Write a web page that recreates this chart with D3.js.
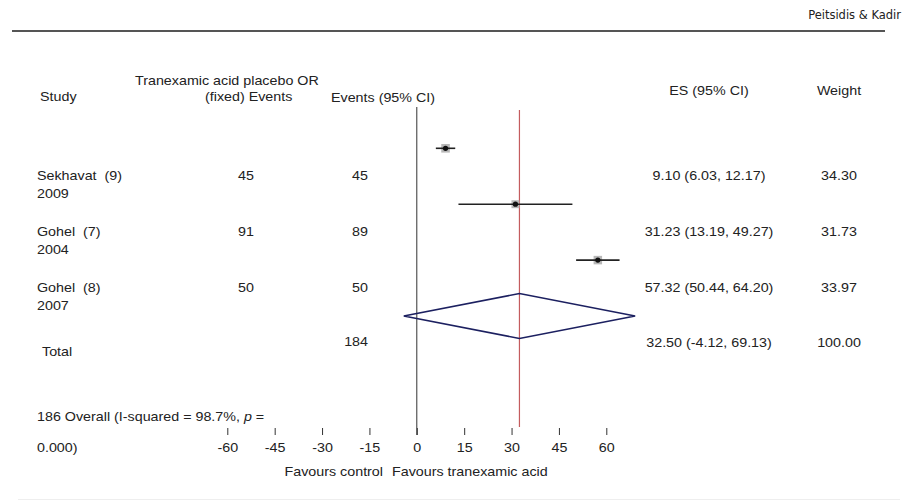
<!DOCTYPE html>
<html><head><meta charset="utf-8">
<script src="https://cdn.jsdelivr.net/npm/d3@7"></script>
<style>body{margin:0;background:#fff}svg{display:block}text{font-family:"Liberation Sans",Arial,sans-serif;font-size:13px;fill:#222;white-space:pre}</style>
</head><body>
<svg id="c" width="913" height="501"></svg>
<script>
const studies = ["Sekhavat  (9)", "Gohel  (7)", "Gohel  (8)"];
const years = ["2009", "2004", "2007"];
const txEvents = ["45", "91", "50"];
const plEvents = ["45", "89", "50"];
const es = [9.10, 31.23, 57.32];
const lo = [6.03, 13.19, 50.44];
const hi = [12.17, 49.27, 64.20];
const weights = [34.30, 31.73, 33.97];
const esText = ["9.10 (6.03, 12.17)", "31.23 (13.19, 49.27)", "57.32 (50.44, 64.20)"];
const overall = {es: 32.50, lo: -4.12, hi: 69.13, text: "32.50 (-4.12, 69.13)", weight: "100.00", total: "184"};
const ticks = [-60, -45, -30, -15, 0, 15, 30, 45, 60];

const SX = 1.1;
const svg = d3.select("#c");
const x = d3.scaleLinear().domain([-60, 60]).range([227.3, 606.3]);
const rows = d3.scaleLinear().domain([0, 3]).range([148.3, 316]);

function txt(px, py, s, anchor) {
  return svg.append("text")
    .attr("transform", `translate(${px},${py}) scale(${SX},1)`)
    .attr("xml:space", "preserve")
    .attr("text-anchor", anchor || "start").text(s);
}

// header
svg.append("text").attr("x", 901).attr("y", 19).attr("text-anchor", "end")
  .style("font-family", "'DejaVu Sans',Verdana,sans-serif").style("font-size", "11.5px").text("Peitsidis & Kadir");
svg.append("line").attr("x1", 12).attr("x2", 885).attr("y1", 31).attr("y2", 31)
  .attr("stroke", "#555").attr("stroke-width", 2);
svg.append("line").attr("x1", 18).attr("x2", 900).attr("y1", 499.5).attr("y2", 499.5)
  .attr("stroke", "#eee").attr("stroke-width", 1);

// column headers
txt(40, 101, "Study");
txt(135, 85, "Tranexamic acid placebo OR");
txt(205, 101, "(fixed) Events");
txt(331, 101.5, "Events (95% CI)");
txt(709, 95, "ES (95% CI)", "middle");
txt(839, 95, "Weight", "middle");

// vertical lines
svg.append("line").attr("x1", x(0)).attr("x2", x(0)).attr("y1", 107).attr("y2", 435)
  .attr("stroke", "#333").attr("stroke-width", 1);
svg.append("line").attr("x1", x(overall.es)).attr("x2", x(overall.es)).attr("y1", 110).attr("y2", 427)
  .attr("stroke", "#c45c5e").attr("stroke-width", 1.2);

// study rows
studies.forEach((s, i) => {
  const ty = rows(i + 0.5) + 3.5;
  txt(37, ty, s);
  txt(37, ty + 18, years[i]);
  txt(254, ty, txEvents[i], "end");
  txt(368, ty, plEvents[i], "end");
  txt(709, ty, esText[i], "middle");
  txt(839, ty, weights[i].toFixed(2), "middle");

  const py = rows(i);
  const side = weights[i] * 0.25;
  svg.append("rect").attr("x", x(es[i]) - side / 2).attr("y", py - side / 2)
    .attr("width", side).attr("height", side).attr("fill", "#b8b8b8");
  svg.append("line").attr("x1", x(lo[i])).attr("x2", x(hi[i])).attr("y1", py).attr("y2", py)
    .attr("stroke", "#222").attr("stroke-width", 1.6);
  svg.append("circle").attr("cx", x(es[i])).attr("cy", py).attr("r", 2.6).attr("fill", "#111");
});

// overall diamond
const dy = rows(3);
svg.append("path")
  .attr("d", d3.line()([[x(overall.lo), dy], [x(overall.es), dy - 22.5], [x(overall.hi), dy], [x(overall.es), dy + 22.5]]) + "Z")
  .attr("fill", "none").attr("stroke", "#1c2060").attr("stroke-width", 1.6);

txt(42, 356, "Total");
txt(368, 346, overall.total, "end");
txt(709, 347, overall.text, "middle");
txt(839, 347, overall.weight, "middle");

const ov = txt(37, 421, "");
ov.append("tspan").text("186 Overall (I-squared = 98.7%, ");
ov.append("tspan").style("font-style", "italic").text("p");
ov.append("tspan").text(" =");
txt(37, 452, "0.000)");

// axis
const ax = svg.append("g").attr("transform", "translate(0,428)")
  .call(d3.axisBottom(x).tickValues(ticks).tickFormat(d => String(d)).tickSize(7).tickPadding(8).tickSizeOuter(0));
ax.select(".domain").remove();
ax.selectAll("line").attr("stroke", "#333");
ax.selectAll("text").style("font-size", "13px").attr("fill", "#222")
  .attr("transform", `scale(${SX},1)`)
  .style("font-family", "'Liberation Sans',Arial,sans-serif");

txt(383, 476, "Favours control", "end");
txt(392, 476, "Favours tranexamic acid");
</script>
</body></html>
